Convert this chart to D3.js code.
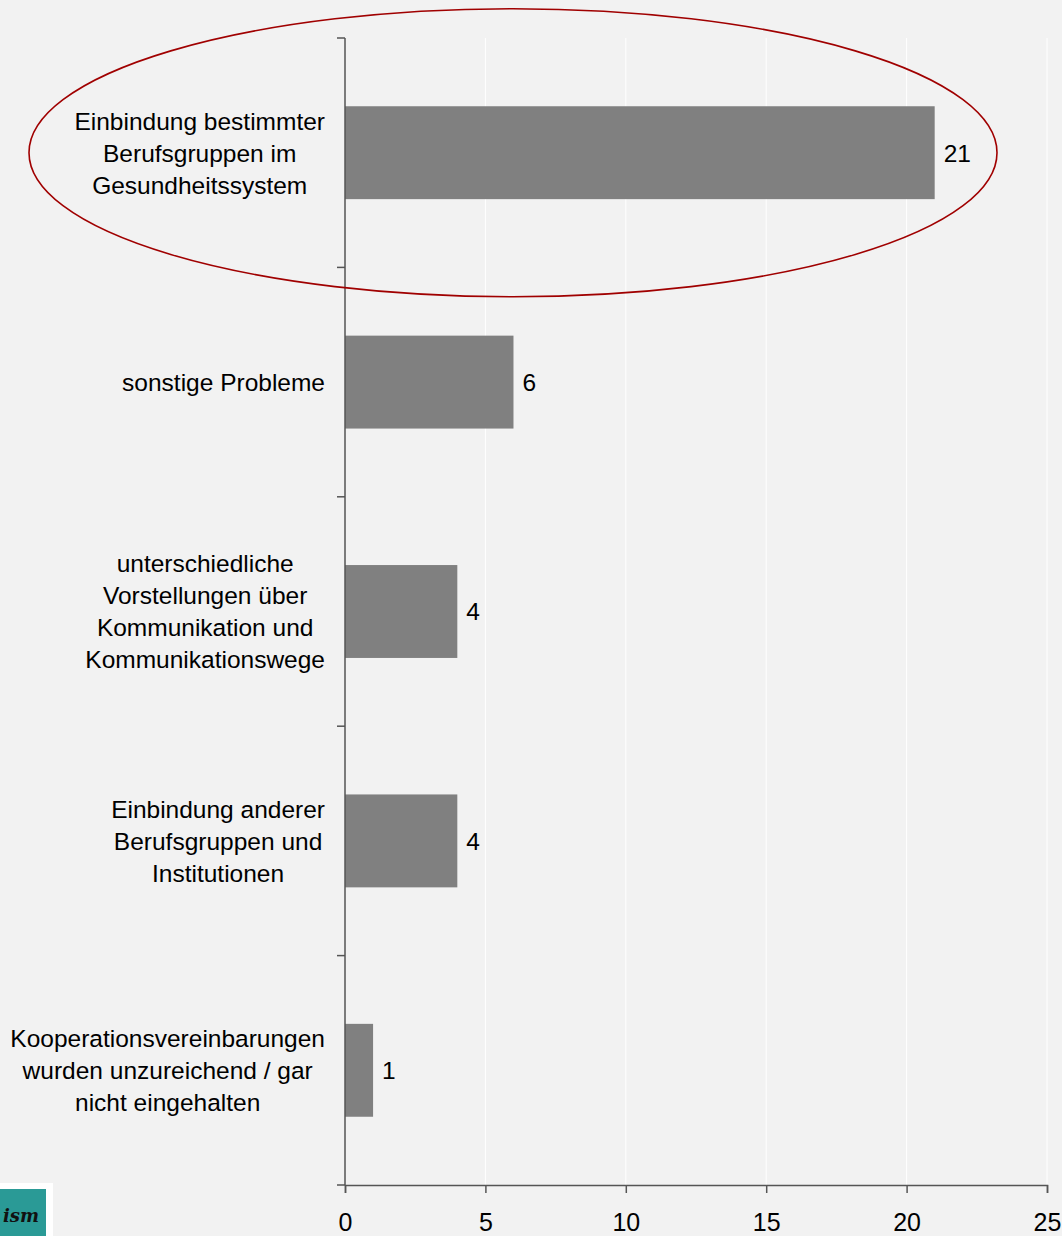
<!DOCTYPE html>
<html><head><meta charset="utf-8">
<script src="https://cdn.jsdelivr.net/npm/d3@7"></script>
<style>body{margin:0;background:#f2f2f2;}svg{display:block;}</style>
</head><body>
<script>
const categories = [
  ["Einbindung bestimmter","Berufsgruppen im","Gesundheitssystem"],
  ["sonstige Probleme"],
  ["unterschiedliche","Vorstellungen über","Kommunikation und","Kommunikationswege"],
  ["Einbindung anderer","Berufsgruppen und","Institutionen"],
  ["Kooperationsvereinbarungen","wurden unzureichend / gar","nicht eingehalten"]
];
const values = [21, 6, 4, 4, 1];
const xTicks = [0, 5, 10, 15, 20, 25];

const W = 1062, H = 1236;
const svg = d3.select("body").append("svg").attr("width", W).attr("height", H);
svg.append("rect").attr("width", W).attr("height", H).attr("fill", "#f2f2f2");

const x = d3.scaleLinear().domain([0, 25]).range([345, 1047]);
const y = d3.scaleBand().domain(d3.range(categories.length)).range([38, 1185]).paddingInner(0.595).paddingOuter(0.2975);
const bandEdges = d3.range(categories.length + 1).map(i => 38 + i * (1185 - 38) / categories.length);
const font = "Liberation Sans, Arial, sans-serif";
const labelSize = 24.5;

// gridlines
svg.append("g").selectAll("line").data(xTicks.slice(1)).join("line")
  .attr("x1", d => x(d)).attr("x2", d => x(d)).attr("y1", 38).attr("y2", 1185)
  .attr("stroke", "#ffffff").attr("stroke-width", 1);

// bars
svg.append("g").selectAll("rect").data(values).join("rect")
  .attr("x", x(0)).attr("y", (d, i) => y(i)).attr("width", d => x(d) - x(0)).attr("height", y.bandwidth())
  .attr("fill", "#808080");

// value labels
svg.append("g").selectAll("text").data(values).join("text")
  .attr("x", d => x(d) + 9).attr("y", (d, i) => y(i) + y.bandwidth() / 2)
  .attr("dy", "0.36em").attr("font-family", font).attr("font-size", labelSize).attr("fill", "#000")
  .text(d => d);

// y axis line and ticks
const ax = svg.append("g").attr("stroke", "#555").attr("stroke-width", 1.5);
ax.append("line").attr("x1", 345).attr("x2", 345).attr("y1", 38).attr("y2", 1185);
ax.selectAll("line.t").data(bandEdges).join("line").attr("class", "t")
  .attr("x1", 337).attr("x2", 345).attr("y1", d => d).attr("y2", d => d);

// x axis
const xAxis = d3.axisBottom(x).tickValues(xTicks).tickSize(8).tickPadding(20);
const gx = svg.append("g").attr("transform", "translate(0,1185)").call(xAxis);
gx.select(".domain").attr("stroke", "#555").attr("stroke-width", 1.5);
gx.selectAll(".tick line").attr("stroke", "#555").attr("stroke-width", 1.5);
gx.selectAll(".tick text").attr("font-family", font).attr("font-size", 25).attr("fill", "#000");

// category labels
categories.forEach((lines, i) => {
  const cy = y(i) + y.bandwidth() / 2;
  const lh = 32;
  const t = svg.append("text").attr("font-family", font).attr("font-size", labelSize).attr("fill", "#000")
    .attr("text-anchor", "middle");
  const tmp = svg.append("text").attr("font-family", font).attr("font-size", labelSize);
  let maxW = 0;
  lines.forEach(l => { tmp.text(l); maxW = Math.max(maxW, tmp.node().getComputedTextLength()); });
  tmp.remove();
  const cx = 325 - maxW / 2;
  lines.forEach((l, j) => {
    t.append("tspan").attr("x", cx).attr("y", cy + (j - (lines.length - 1) / 2) * lh).attr("dy", "0.36em").text(l);
  });
});

// highlight ellipse
svg.append("ellipse").attr("cx", 513).attr("cy", y(0) + y.bandwidth() / 2).attr("rx", 484).attr("ry", 144)
  .attr("fill", "none").attr("stroke", "#a00000").attr("stroke-width", 1.6);

// logo (partially visible)
const logo = svg.append("g");
logo.append("rect").attr("x", 0).attr("y", 1183).attr("width", 53).attr("height", 60).attr("fill", "#ffffff");
logo.append("rect").attr("x", 0).attr("y", 1189).attr("width", 46).attr("height", 60).attr("fill", "#2a9a96");
logo.append("text").attr("x", 3).attr("y", 1222)
  .attr("font-family", "DejaVu Serif, serif").attr("font-style", "italic")
  .attr("font-weight", "bold").attr("font-size", 18).attr("fill", "#111").text("ism");
</script>
</body></html>
